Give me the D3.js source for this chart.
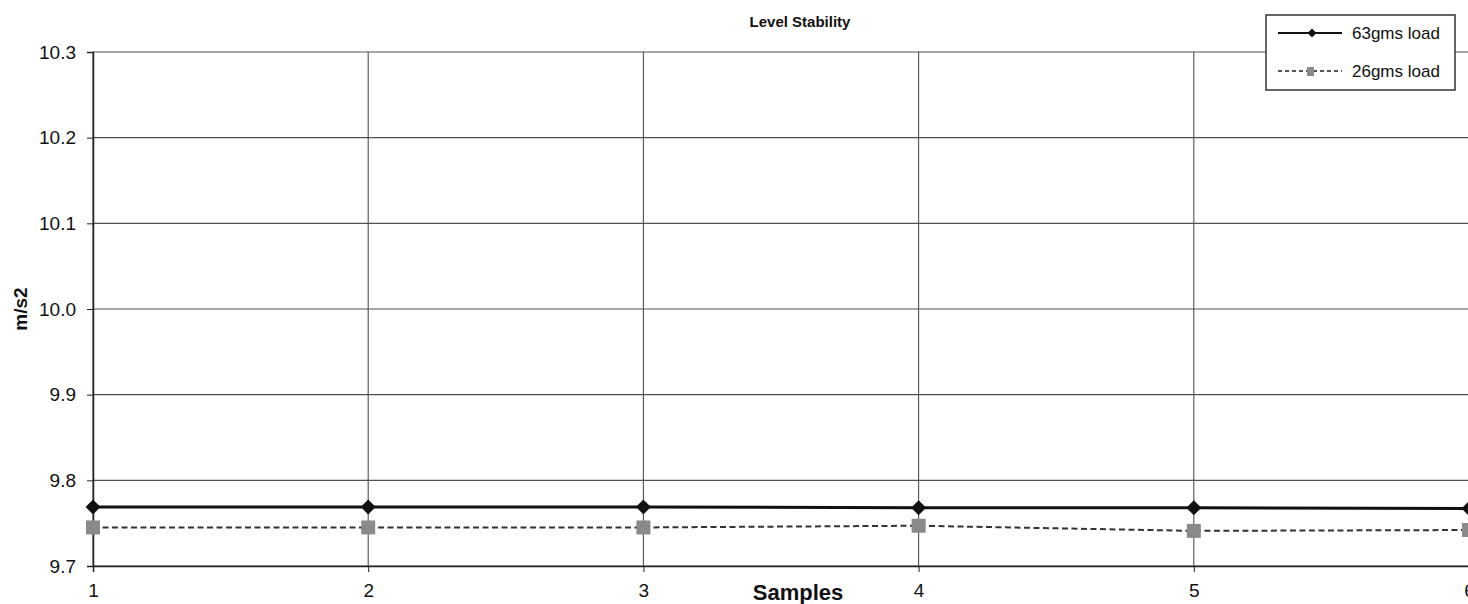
<!DOCTYPE html>
<html>
<head>
<meta charset="utf-8">
<script src="https://cdn.jsdelivr.net/npm/d3@7"></script>
<style>
  body { margin: 0; background: #fff; overflow: hidden; }
  svg { font-family: "Liberation Sans", Arial, sans-serif; display: block; }
</style>
</head>
<body>
<div id="chart"></div>
<script>
// data
const samples = [1, 2, 3, 4, 5, 6];
const load63 = [9.769, 9.769, 9.769, 9.768, 9.768, 9.767];
const load26 = [9.745, 9.745, 9.745, 9.747, 9.741, 9.742];
const yTicks = [9.7, 9.8, 9.9, 10.0, 10.1, 10.2, 10.3];
const seriesNames = ["63gms load", "26gms load"];

const width = 1468, height = 604;
const margin = { top: 52, right: -1, bottom: 38, left: 93 };

const svg = d3.select("#chart")
    .append("svg")
    .attr("width", width)
    .attr("height", height);

// scales
const x = d3.scaleLinear()
    .domain([1, 6])
    .range([margin.left, width - margin.right]);
const y = d3.scaleLinear()
    .domain([9.7, 10.3])
    .range([height - margin.bottom, margin.top]);

// gridlines
const grid = svg.append("g").attr("id", "grid");
grid.selectAll("line.h")
    .data(yTicks)
    .enter()
    .append("line")
    .attr("class", "h")
    .attr("x1", margin.left)
    .attr("x2", width)
    .attr("y1", d => y(d))
    .attr("y2", d => y(d))
    .attr("stroke", "#505050")
    .attr("stroke-width", 1.1);
grid.selectAll("line.v")
    .data(samples)
    .enter()
    .append("line")
    .attr("class", "v")
    .attr("x1", d => x(d))
    .attr("x2", d => x(d))
    .attr("y1", y(10.3))
    .attr("y2", y(9.7))
    .attr("stroke", "#505050")
    .attr("stroke-width", 1.1);

// axes
const yAxis = svg.append("g")
    .attr("transform", "translate(" + margin.left + ",0)")
    .call(d3.axisLeft(y).tickValues(yTicks).tickFormat(d3.format(".1f")).tickSize(6).tickPadding(11));
const xAxis = svg.append("g")
    .attr("transform", "translate(0," + y(9.7) + ")")
    .call(d3.axisBottom(x).tickValues(samples).tickFormat(d3.format("d")).tickSize(6).tickPadding(12));

[yAxis, xAxis].forEach(a => {
    a.select(".domain").attr("stroke", "#222").attr("stroke-width", 1.5);
    a.selectAll(".tick line").attr("stroke", "#222");
    a.selectAll(".tick text").attr("fill", "#111").style("font-size", "19px");
});

// title and axis labels
svg.append("text")
    .attr("x", 800)
    .attr("y", 27)
    .attr("text-anchor", "middle")
    .style("font-size", "15px")
    .style("font-weight", "bold")
    .attr("fill", "#111")
    .text("Level Stability");
svg.append("text")
    .attr("x", 798)
    .attr("y", 600)
    .attr("text-anchor", "middle")
    .style("font-size", "22px")
    .style("font-weight", "bold")
    .attr("fill", "#111")
    .text("Samples");
svg.append("text")
    .attr("transform", "translate(27," + y(10.0) + ") rotate(-90)")
    .attr("text-anchor", "middle")
    .style("font-size", "19px")
    .style("font-weight", "bold")
    .attr("fill", "#111")
    .text("m/s2");

// series lines
const line = d3.line()
    .x((d, i) => x(samples[i]))
    .y(d => y(d));

svg.append("path")
    .datum(load26)
    .attr("d", line)
    .attr("fill", "none")
    .attr("stroke", "#333")
    .attr("stroke-width", 2)
    .attr("stroke-dasharray", "6,3.5");
svg.append("path")
    .datum(load63)
    .attr("d", line)
    .attr("fill", "none")
    .attr("stroke", "#111")
    .attr("stroke-width", 3);

// markers
svg.append("g").selectAll("rect")
    .data(load26)
    .enter()
    .append("rect")
    .attr("x", (d, i) => x(samples[i]) - 7)
    .attr("y", d => y(d) - 7)
    .attr("width", 14)
    .attr("height", 14)
    .attr("fill", "#8a8a8a");
// diamond as a rotated square
const diamond = r => "M0," + (-r) + "L" + r + ",0L0," + r + "L" + (-r) + ",0Z";
svg.append("g").selectAll("path")
    .data(load63)
    .enter()
    .append("path")
    .attr("d", diamond(7.5))
    .attr("transform", (d, i) => "translate(" + x(samples[i]) + "," + y(d) + ")")
    .attr("fill", "#111");

// legend
const lg = svg.append("g").attr("transform", "translate(1266,15)");
lg.append("rect")
    .attr("width", 189)
    .attr("height", 75)
    .attr("fill", "#fff")
    .attr("stroke", "#333")
    .attr("stroke-width", 1.5);
lg.append("line")
    .attr("x1", 12).attr("x2", 76).attr("y1", 18).attr("y2", 18)
    .attr("stroke", "#111").attr("stroke-width", 2.2);
lg.append("path")
    .attr("d", diamond(4.5))
    .attr("transform", "translate(46,18)")
    .attr("fill", "#111");
lg.append("line")
    .attr("x1", 12).attr("x2", 76).attr("y1", 56).attr("y2", 56)
    .attr("stroke", "#555").attr("stroke-width", 1.8).attr("stroke-dasharray", "4,3");
lg.append("rect")
    .attr("x", 41).attr("y", 52).attr("width", 7).attr("height", 9)
    .attr("fill", "#8a8a8a");
lg.selectAll("text.lab")
    .data(seriesNames)
    .enter()
    .append("text")
    .attr("class", "lab")
    .attr("x", 86)
    .attr("y", (d, i) => 18 + i * 38)
    .attr("dy", "0.35em")
    .style("font-size", "17px")
    .attr("fill", "#111")
    .text(d => d);
</script>
</body>
</html>
